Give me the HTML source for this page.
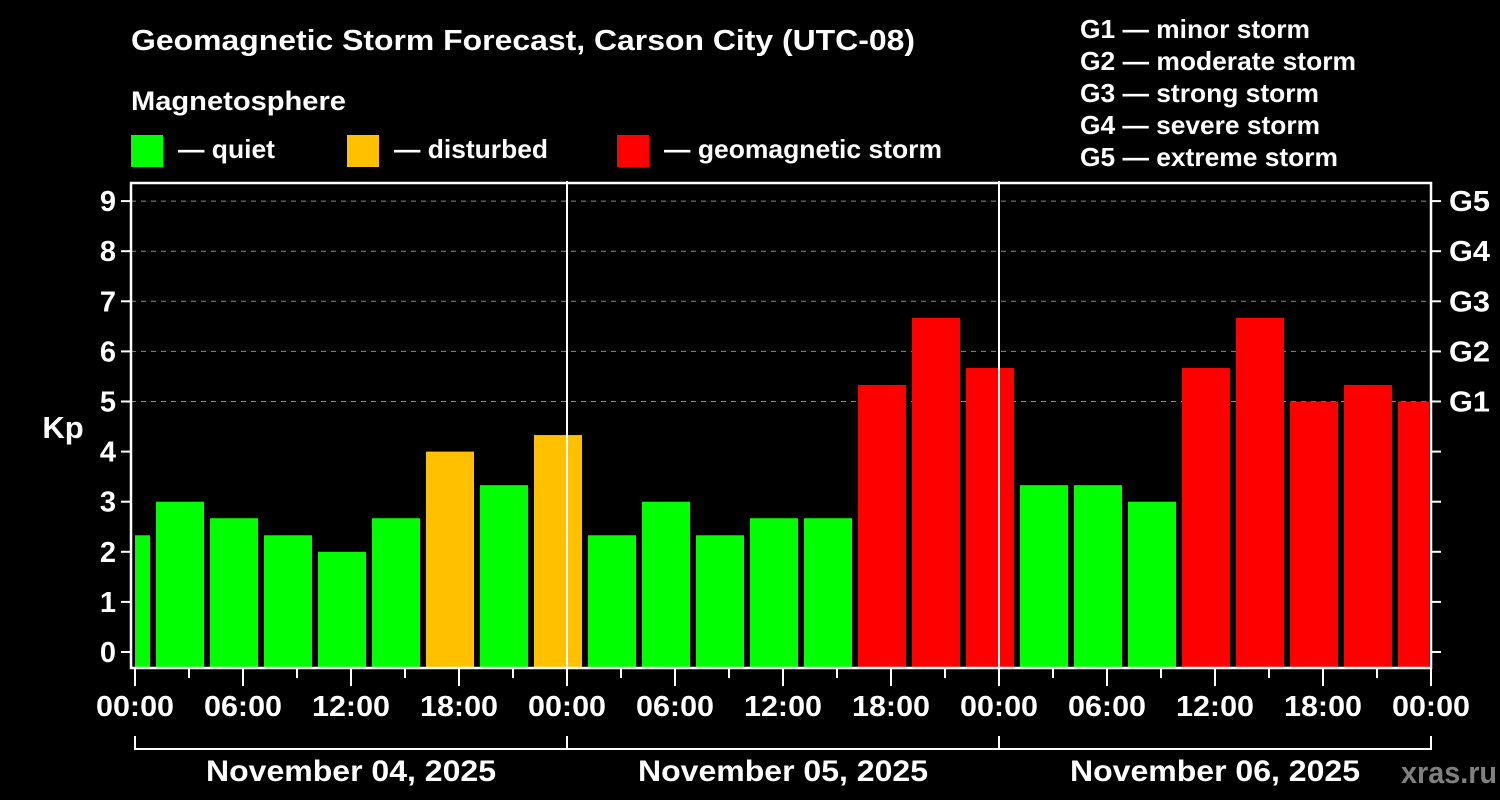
<!DOCTYPE html>
<html><head><meta charset="utf-8"><style>
html,body{margin:0;padding:0;background:#000;}
svg{display:block;font-family:"Liberation Sans",sans-serif;font-weight:bold;}
</style></head><body>
<svg id="chart" width="1500" height="800" viewBox="0 0 1500 800">
<rect x="0" y="0" width="1500" height="800" fill="#000"/>
<text x="131" y="50" fill="#fff" font-size="29" textLength="784" lengthAdjust="spacingAndGlyphs">Geomagnetic Storm Forecast, Carson City (UTC-08)</text>
<text x="131" y="110" fill="#fff" font-size="27" textLength="215" lengthAdjust="spacingAndGlyphs">Magnetosphere</text>
<g><rect x="131" y="135" width="32" height="32" fill="#00ff00"/><text x="178" y="158" fill="#fff" font-size="26" textLength="97" lengthAdjust="spacingAndGlyphs">— quiet</text></g>
<g><rect x="347" y="135" width="32" height="32" fill="#ffc000"/><text x="394" y="158" fill="#fff" font-size="26" textLength="154" lengthAdjust="spacingAndGlyphs">— disturbed</text></g>
<g><rect x="617" y="135" width="32" height="32" fill="#ff0000"/><text x="664" y="158" fill="#fff" font-size="26" textLength="278" lengthAdjust="spacingAndGlyphs">— geomagnetic storm</text></g>
<g fill="#fff" font-size="26">
<text x="1080" y="38" textLength="230" lengthAdjust="spacingAndGlyphs">G1 — minor storm</text>
<text x="1080" y="70" textLength="276" lengthAdjust="spacingAndGlyphs">G2 — moderate storm</text>
<text x="1080" y="102" textLength="239" lengthAdjust="spacingAndGlyphs">G3 — strong storm</text>
<text x="1080" y="134" textLength="240" lengthAdjust="spacingAndGlyphs">G4 — severe storm</text>
<text x="1080" y="166" textLength="258" lengthAdjust="spacingAndGlyphs">G5 — extreme storm</text>
</g>
<defs><clipPath id="pc"><rect x="135" y="183" width="1294" height="485"/></clipPath></defs>
<g id="grid"></g>
<g id="bars" clip-path="url(#pc)"></g>
<g id="axes"></g>
<text x="63" y="438" fill="#fff" font-size="31" text-anchor="middle">Kp</text>
<text x="1401" y="783" fill="#808080" font-size="31" textLength="96" lengthAdjust="spacingAndGlyphs">xras.ru</text>
</svg>
<script>
const kpValues = [2.33,3.0,2.67,2.33,2.0,2.67,4.0,3.33,4.33,2.33,3.0,2.33,2.67,2.67,5.33,6.67,5.67,3.33,3.33,3.0,5.67,6.67,5.0,5.33,5.0];
const barHours = [-0.5,2.5,5.5,8.5,11.5,14.5,17.5,20.5,23.5,26.5,29.5,32.5,35.5,38.5,41.5,44.5,47.5,50.5,53.5,56.5,59.5,62.5,65.5,68.5,71.5];
const yTicks = [0,1,2,3,4,5,6,7,8,9];
const gLabels = {5:"G1",6:"G2",7:"G3",8:"G4",9:"G5"};
const xTickHours = [0,6,12,18,24,30,36,42,48,54,60,66,72];
const xTickLabels = ["00:00","06:00","12:00","18:00","00:00","06:00","12:00","18:00","00:00","06:00","12:00","18:00","00:00"];
const dayLabels = ["November 04, 2025","November 05, 2025","November 06, 2025"];

const NS="http://www.w3.org/2000/svg";
const X0=135, PX_H=18, Y0=652, PX_K=50.1, BOTTOM=668, TOP=183, RIGHT=1431, LEFT=131;
const xs=h=>X0+h*PX_H, ys=k=>Y0-k*PX_K;
function mk(tag,attrs,parent){const e=document.createElementNS(NS,tag);for(const k in attrs)e.setAttribute(k,attrs[k]);parent.appendChild(e);return e;}
const grid=document.getElementById('grid'), bars=document.getElementById('bars'), axes=document.getElementById('axes');

yTicks.forEach(k=>{ if(k>=5){
  const l=mk('line',{x1:LEFT,x2:RIGHT,y1:ys(k),y2:ys(k),stroke:'#8a8a8a','stroke-width':1,'stroke-dasharray':'5,5'},grid);
  
  
}});

kpValues.forEach((v,i)=>{
  const c=xs(barHours[i]);
  const col=v>=5?'#ff0000':(v>=4?'#ffc000':'#00ff00');
  const r=mk('rect',{x:c-24,y:ys(v),width:48,height:BOTTOM-ys(v),fill:col},bars);
  
  
});

[24,48].forEach(h=>{mk('line',{x1:xs(h),x2:xs(h),y1:181,y2:BOTTOM,stroke:'#fff','stroke-width':2},axes);});
const fr=mk('rect',{x:LEFT,y:TOP,width:RIGHT-LEFT,height:BOTTOM-TOP,fill:'none',stroke:'#fff','stroke-width':2.5},axes);



yTicks.forEach(k=>{
  const y=ys(k);
  mk('line',{x1:LEFT-10,x2:LEFT,y1:y,y2:y,stroke:'#fff','stroke-width':2},axes);
  mk('line',{x1:RIGHT,x2:RIGHT+10,y1:y,y2:y,stroke:'#fff','stroke-width':2},axes);
  const t=mk('text',{x:116,y:y+10,fill:'#fff','font-size':29,'text-anchor':'end'},axes);
  t.textContent=k;
  
  
  if(gLabels[k]){
    const g=mk('text',{x:1449,y:y+10,fill:'#fff','font-size':29,textLength:41,lengthAdjust:'spacingAndGlyphs'},axes);
    g.textContent=gLabels[k];
    
    
  }
});

for(let h=0;h<=72;h+=3){
  mk('line',{x1:xs(h),x2:xs(h),y1:BOTTOM,y2:BOTTOM+(h%6===0?18:10),stroke:'#fff','stroke-width':2},axes);
}
xTickHours.forEach((h,i)=>{
  const t=mk('text',{x:xs(h),y:716,fill:'#fff','font-size':29,'text-anchor':'middle',textLength:78,lengthAdjust:'spacingAndGlyphs'},axes);
  t.textContent=xTickLabels[i];
  
  
});
mk('line',{x1:xs(0),x2:xs(72),y1:749,y2:749,stroke:'#fff','stroke-width':2},axes);
[0,24,48,72].forEach(h=>mk('line',{x1:xs(h),x2:xs(h),y1:736,y2:750,stroke:'#fff','stroke-width':2},axes));
dayLabels.forEach((d,i)=>{
  const t=mk('text',{x:xs(i*24+12),y:781,fill:'#fff','font-size':30,'text-anchor':'middle',textLength:290,lengthAdjust:'spacingAndGlyphs'},axes);
  t.textContent=d;
  
  
});
</script>
</body></html>
